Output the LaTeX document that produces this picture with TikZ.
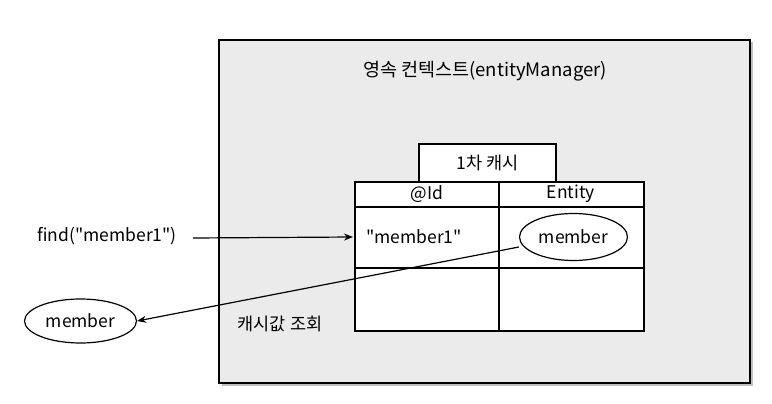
\documentclass[tikz,border=0pt]{standalone}
\usepackage{fontspec}
\setmainfont{Noto Sans CJK KR}[Ligatures=TeXOff]
\usetikzlibrary{shapes.geometric,arrows.meta}
\begin{document}
\begin{tikzpicture}[x=1pt,y=-1pt,
  every node/.style={font=\fontsize{17.5}{20}\selectfont, inner sep=0pt},
  cellbox/.style={draw=black, line width=1.3pt, fill=white},
  oval/.style={ellipse, draw=black, line width=1.2pt, fill=white},
  arr/.style={-{Stealth[length=9pt,width=7pt]}, line width=1.2pt}]
\useasboundingbox (0,0) rectangle (772,404);
\fill[white] (0,0) rectangle (772,404);
% outer box with shadow
\fill[black!25] (221.5,42.5) rectangle (752.5,385.5);
\draw[fill=black!8, line width=1.4pt] (219,40) rectangle (750,383);
\node[font=\fontsize{18.5}{21}\selectfont] (title) at (485,71) {영속 컨텍스트(entityManager)};
% cache label box
\draw[cellbox] (419,144) rectangle (556,182);
\node (cache) at (487.5,163) {1차 캐시};
% table
\draw[cellbox] (355,182) rectangle (644,331);
\draw[line width=1.3pt] (355,207) -- (644,207);
\draw[line width=1.8pt] (355,268) -- (644,268);
\draw[line width=1.3pt] (499,182) -- (499,331);
\node (hid) at (427,194) {@Id};
\node (hent) at (571,194) {Entity};
\node (key) at (414,237) {"member1"};
\node[oval, minimum width=108pt, minimum height=47pt] (ent) at (573.5,237) {member};
% outside
\node (find) at (107,236) {find("member1")};
\coordinate (fstart) at (193,238);
\node[oval, minimum width=112pt, minimum height=44pt] (res) at (80.5,321) {member};
\node (lookup) at (280,324) {캐시값 조회};
% arrows
\draw[arr] (fstart) -- (key.west -| 353,0);
\draw[arr] (ent.west) ++(0,10) -- (res.east);
\end{tikzpicture}
\end{document}
